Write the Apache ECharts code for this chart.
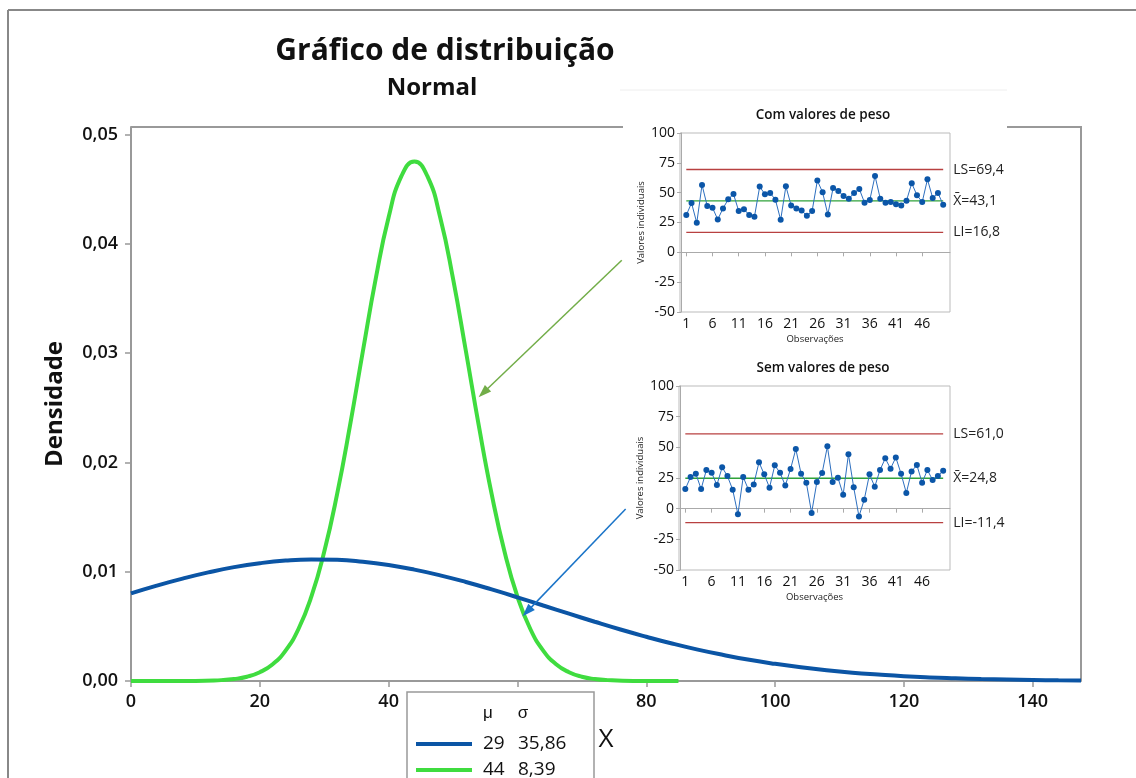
<!DOCTYPE html>
<html>
<head>
<meta charset="utf-8">
<script src="https://cdn.jsdelivr.net/npm/echarts@6.0.0/dist/echarts.min.js"></script>
<style>
html,body{margin:0;padding:0;background:#fff;}
#chart{width:1136px;height:778px;}
</style>
</head>
<body>
<div id="chart"></div>
<script>
// ---------- main chart data ----------
const blueX = [0,4,8,12,16,20,24,28,32,36,40,44,48,52,56,60,64,68,72,76,80,84,88,92,96,100,104,108,112,116,120,124,128,132,136,140,144,147.5];
const blueY = [0.00802,0.00873,0.00937,0.00994,0.01042,0.01078,0.01102,0.01112,0.01109,0.01091,0.01061,0.01019,0.00967,0.00906,0.00838,0.00766,0.00691,0.00616,0.00542,0.00471,0.00405,0.00343,0.00287,0.00238,0.00194,0.00157,0.00125,0.00098,0.00076,0.00059,0.00044,0.00033,0.00025,0.00018,0.00013,0.00009,0.00006,0.00005];
const greenX = [0,10,14,16,18,20,22,24,26,28,30,32,34,36,38,40,42,44,46,48,50,52,54,56,58,60,62,64,66,68,70,72,74,78,85];
const greenY = [0,0,0.00008,0.00018,0.00039,0.00080,0.00153,0.00278,0.00476,0.00772,0.01182,0.01710,0.02337,0.03018,0.03682,0.04244,0.04622,0.04755,0.04622,0.04244,0.03682,0.03018,0.02337,0.01710,0.01182,0.00772,0.00476,0.00278,0.00153,0.00080,0.00039,0.00018,0.00008,0.00001,0];
const legendMu = ['29','44'];
const legendSigma = ['35,86','8,39'];
const mainXTicks = [0,20,40,60,80,100,120,140];
const mainYTicks = [0,0.01,0.02,0.03,0.04,0.05];
// arrows (start, tip) in main-chart data space
const greenArrow = [[76.2,0.0385],[54.7,0.02638]];
const blueArrow = [[76.8,0.01575],[61.5,0.00635]];

// ---------- inset control charts ----------
const obsTicks = [1,6,11,16,21,26,31,36,41,46];
const comPeso = [31.2,41.3,24.7,56.5,38.8,37.4,27.5,36.8,44.4,48.9,34.6,36.2,31.2,29.8,55.1,48.6,49.7,44.1,27.2,55.3,39.3,36.8,35.1,30.6,34.6,60.1,50.3,31.7,53.9,51.4,47.2,44.9,49.7,53.1,41.6,43.8,64.0,44.9,41.6,42.1,40.2,39.3,43.3,57.9,47.8,42.1,61.2,45.5,49.7,39.9];
const semPeso = [16.0,25.8,28.5,16.0,31.5,29.3,19.3,33.7,26.6,15.5,-4.6,25.8,15.5,19.8,37.8,28.0,17.1,35.3,29.3,18.8,32.3,48.6,28.5,21.2,-3.5,21.7,29.1,50.8,21.7,25.3,11.4,44.3,17.4,-6.3,7.3,28.0,17.9,31.5,41.0,32.6,41.8,28.5,12.8,30.4,35.6,21.2,31.5,23.4,26.6,31.0];
const comLimits = {LS:69.4, X:43.1, LI:16.8};
const semLimits = {LS:61.0, X:24.8, LI:-11.4};
const insetTitles = ['Com valores de peso','Sem valores de peso'];

const FONT = "'Open Sans', 'Noto Sans', sans-serif";
const fmt1 = v => v.toFixed(1).replace('.', ',');
const pairs = (xs, ys) => xs.map((x,i)=>[x, ys[i]]);
const obsPairs = vals => vals.map((v,i)=>[i+1, v]);
const seriesNames = legendMu.map((m,i)=> m+' '+legendSigma[i]);

const chart = echarts.init(document.getElementById('chart'), null, {renderer:'canvas'});

const insetGrids = [
  {left:680, top:133, width:270, height:179},
  {left:679, top:386, width:271, height:184}
];

function insetAxes(gi){
  const x = {
    gridIndex: gi, type:'value', min:-0.2, max:51.3,
    axisLine:{show:true, lineStyle:{color:'#aaa', width:1}},
    axisTick:{show:true, customValues: obsTicks, length:4, lineStyle:{color:'#aaa'}},
    axisLabel:{customValues: obsTicks, fontSize:14, fontWeight:500, color:'#111', fontFamily:FONT, margin:5},
    splitLine:{show:false},
    name:'Observações', nameLocation:'middle', nameGap:22,
    nameTextStyle:{fontSize:9.5, color:'#222', fontFamily:FONT}
  };
  const y = {
    gridIndex: gi, type:'value', min:-50, max:100, interval:25,
    axisLine:{show:true, lineStyle:{color:'#aaa', width:1}},
    axisTick:{show:true, length:4, lineStyle:{color:'#aaa'}},
    axisLabel:{fontSize:14, fontWeight:500, color:'#111', fontFamily:FONT, margin:5},
    splitLine:{show:false},
    name:'Valores individuais', nameLocation:'middle', nameGap:34,
    nameTextStyle:{fontSize:9.5, color:'#222', fontFamily:FONT}
  };
  return [x,y];
}
const ia0 = insetAxes(1), ia1 = insetAxes(2);

function limitSeries(gi, val, label, color){
  return {
    type:'line', xAxisIndex:gi, yAxisIndex:gi, data:[[1,val],[50,val]],
    symbol:'none', lineStyle:{color:color, width:1.3}, z:3, silent:true,
    endLabel:{show:true, formatter:label, distance:10, fontSize:14, color:'#222', fontFamily:FONT}
  };
}
function obsSeries(gi, vals){
  return {
    type:'line', xAxisIndex:gi, yAxisIndex:gi, data:obsPairs(vals),
    symbol:'circle', symbolSize:6, showSymbol:true,
    lineStyle:{color:'#2d6fbf', width:1}, itemStyle:{color:'#0b56a8'}, z:5, silent:true
  };
}
const RED = '#b84040', GRN = '#2fa23a';

function arrowMark(arr, color){
  return {
    silent:true, animation:false,
    symbol:['none','triangle'], symbolSize:[9,13],
    label:{show:false},
    lineStyle:{color:color, width:1.5, type:'solid'},
    itemStyle:{color:color},
    emphasis:{disabled:true},
    data:[[{coord:arr[0]},{coord:arr[1]}]]
  };
}

function legendRow(i, top){
  return {
    orient:'vertical', left:411, top:top, z:20,
    icon:'rect', itemWidth:56, itemHeight:4,
    data:[seriesNames[i]],
    selectedMode:false,
    formatter: name => { const p = name.split(' '); return '{a|'+p[0]+'}{b|'+p[1]+'}'; },
    textStyle:{fontSize:19, lineHeight:22, color:'#111', fontFamily:FONT, padding:[0,0,0,6],
      rich:{a:{width:35, fontSize:19, fontFamily:FONT, color:'#111'}, b:{fontSize:19, fontFamily:FONT, color:'#111'}}}
  };
}

const option = {
  animation:false,
  backgroundColor:'#fff',
  textStyle:{fontFamily:FONT},
  title:[
    {text:'Gráfico de distribuição', left:440, top:31, textAlign:'center',
     textStyle:{fontSize:30, fontWeight:'bold', color:'#111', fontFamily:FONT}},
    {text:'Normal', left:427, top:71, textAlign:'center',
     textStyle:{fontSize:24, fontWeight:'bold', color:'#111', fontFamily:FONT}},
    {text:insetTitles[0], left:818, top:103, textAlign:'center',
     textStyle:{fontSize:13.5, fontWeight:600, color:'#111', fontFamily:FONT}},
    {text:insetTitles[1], left:818, top:356, textAlign:'center',
     textStyle:{fontSize:13.5, fontWeight:600, color:'#111', fontFamily:FONT}}
  ],
  grid:[
    {left:131, top:127, right:55, bottom:97},
    Object.assign({show:true, borderColor:'#bbb', borderWidth:1, backgroundColor:'transparent'}, insetGrids[0]),
    Object.assign({show:true, borderColor:'#bbb', borderWidth:1, backgroundColor:'transparent'}, insetGrids[1])
  ],
  xAxis:[
    {gridIndex:0, type:'value', min:0, max:147.5,
     axisLine:{show:true, onZero:false, lineStyle:{color:'#999', width:2}},
     axisTick:{show:true, customValues:mainXTicks, length:6, lineStyle:{color:'#999', width:1.5}},
     axisLabel:{customValues:mainXTicks, fontSize:18, fontWeight:600, color:'#111', fontFamily:FONT, margin:12},
     splitLine:{show:false},
     name:'X', nameLocation:'middle', nameGap:46,
     nameTextStyle:{fontSize:26, color:'#111', fontFamily:FONT}},
    ia0[0], ia1[0]
  ],
  yAxis:[
    {gridIndex:0, type:'value', min:0, max:0.0507,
     axisLine:{show:true, onZero:false, lineStyle:{color:'#999', width:2}},
     axisTick:{show:true, customValues:mainYTicks, length:6, lineStyle:{color:'#999', width:1.5}},
     axisLabel:{customValues:mainYTicks, fontSize:18, fontWeight:600, color:'#111', fontFamily:FONT, margin:13,
       formatter: v => v.toFixed(2).replace('.', ',')},
     splitLine:{show:false},
     name:'Densidade', nameLocation:'middle', nameGap:64,
     nameTextStyle:{fontSize:24, fontWeight:'bold', color:'#111', fontFamily:FONT}},
    ia0[1], ia1[1]
  ],
  legend:[legendRow(0, 728), legendRow(1, 754)],
  graphic:[
    {type:'line', shape:{x1:8,y1:10,x2:8,y2:778}, style:{stroke:'#888', lineWidth:2}, z:1, silent:true},
    {type:'line', shape:{x1:8,y1:10,x2:1136,y2:10}, style:{stroke:'#888', lineWidth:2}, z:1, silent:true},
    {type:'line', shape:{x1:131,y1:127,x2:623,y2:127}, style:{stroke:'#999', lineWidth:2}, z:1, silent:true},
    {type:'line', shape:{x1:1007,y1:127,x2:1081,y2:127}, style:{stroke:'#999', lineWidth:2}, z:1, silent:true},
    {type:'line', shape:{x1:1081,y1:126,x2:1081,y2:681}, style:{stroke:'#999', lineWidth:2}, z:1, silent:true},
    {type:'line', shape:{x1:620,y1:90,x2:1007,y2:90}, style:{stroke:'#eee', lineWidth:1}, z:1, silent:true},
    {type:'rect', shape:{x:407,y:692,width:187,height:120}, style:{fill:'#fff', stroke:'#999', lineWidth:1.5}, z:15, silent:true},
    {type:'text', x:488, y:713, style:{text:'μ', fontSize:17, fill:'#111', font:'600 17px '+FONT, textAlign:'center', textVerticalAlign:'middle'}, z:16, silent:true},
    {type:'text', x:523, y:713, style:{text:'σ', fontSize:17, fill:'#111', font:'600 17px '+FONT, textAlign:'center', textVerticalAlign:'middle'}, z:16, silent:true}
  ],
  series:[
    {name:seriesNames[0], type:'line', xAxisIndex:0, yAxisIndex:0,
     data:pairs(blueX, blueY), smooth:true, showSymbol:false, symbol:'none',
     lineStyle:{color:'#0b55a5', width:4}, itemStyle:{color:'#0b55a5'}, z:3,
     markLine: arrowMark(blueArrow, '#1a74c8')},
    {name:seriesNames[1], type:'line', xAxisIndex:0, yAxisIndex:0,
     data:pairs(greenX, greenY), smooth:true, showSymbol:false, symbol:'none',
     lineStyle:{color:'#3fdc3f', width:4}, itemStyle:{color:'#3fdc3f'}, z:2,
     markLine: arrowMark(greenArrow, '#72ad48')},
    limitSeries(1, comLimits.LS, 'LS='+fmt1(comLimits.LS), RED),
    limitSeries(1, comLimits.X, 'X\u0304='+fmt1(comLimits.X), GRN),
    limitSeries(1, comLimits.LI, 'LI='+fmt1(comLimits.LI), RED),
    obsSeries(1, comPeso),
    limitSeries(2, semLimits.LS, 'LS='+fmt1(semLimits.LS), RED),
    limitSeries(2, semLimits.X, 'X\u0304='+fmt1(semLimits.X), GRN),
    limitSeries(2, semLimits.LI, 'LI='+fmt1(semLimits.LI), RED),
    obsSeries(2, semPeso)
  ]
};
chart.setOption(option);
</script>
</body>
</html>
